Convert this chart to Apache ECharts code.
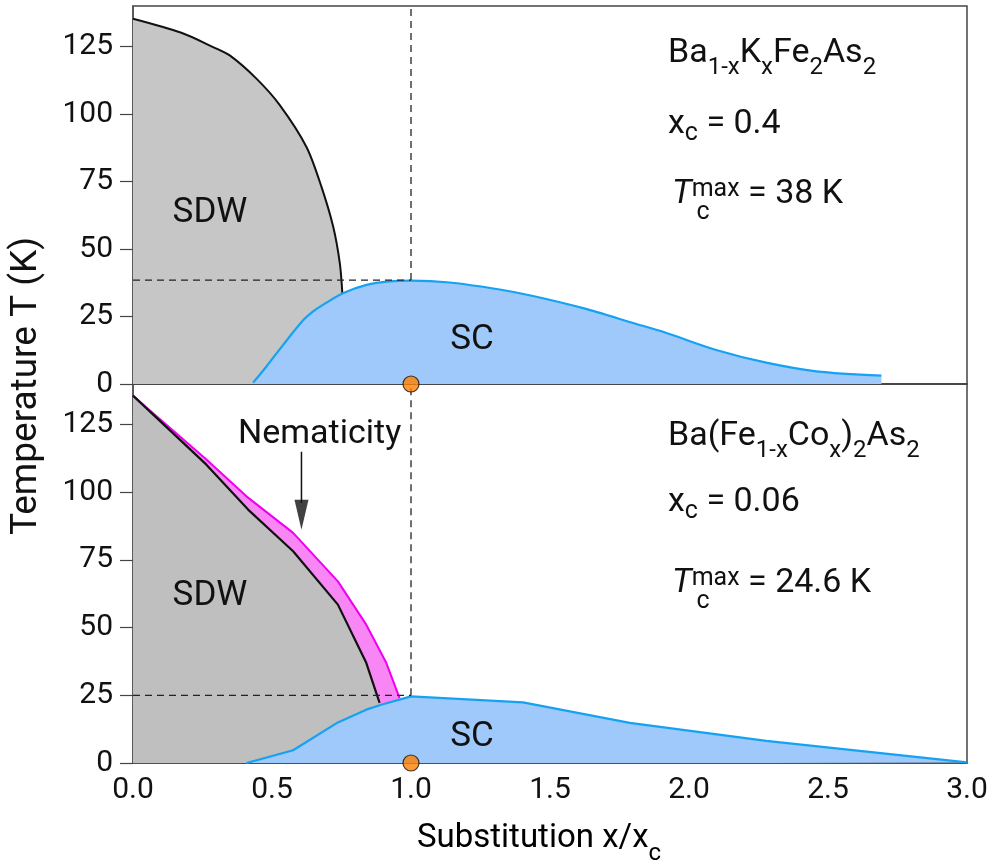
<!DOCTYPE html>
<html>
<head>
<meta charset="utf-8">
<script src="https://cdn.jsdelivr.net/npm/echarts@6/dist/echarts.min.js"></script>
<style>
html,body{margin:0;padding:0;background:#fff;}
#chart{width:995px;height:864px;}
</style>
</head>
<body>
<div id="chart"></div>
<script>
// ---- data (x = substitution x/xc, T = temperature K) ----
const xTicks = [0, 0.5, 1, 1.5, 2, 2.5, 3];
const yTicks = [0, 25, 50, 75, 100, 125];

// Top panel: Ba1-xKxFe2As2
const sdwTopX = [0, 0.174, 0.288, 0.348, 0.444, 0.528, 0.624, 0.678, 0.72, 0.744, 0.753];
const sdwTopT = [135.3, 130.1, 124.8, 121.7, 113.1, 103.3, 87.8, 73.0, 58.3, 44.7, 33.6];
const scTopX = [0.432, 0.48, 0.54, 0.612, 0.647, 0.683, 0.755, 0.84, 0.923, 1.0, 1.139, 1.319, 1.439, 1.619, 1.799, 1.919, 2.098, 2.278, 2.458, 2.692];
const scTopT = [0.5, 6.5, 14.5, 23.6, 26.8, 29.3, 33.6, 36.7, 38.0, 38.3, 37.6, 35.0, 32.6, 28.1, 22.6, 18.9, 12.6, 7.9, 4.7, 3.1];
const tcTop = 38.5;

// Bottom panel: Ba(Fe1-xCox)2As2
const sdwBotX = [0, 0.264, 0.414, 0.576, 0.737, 0.839, 0.887];
const sdwBotT = [135.7, 110.2, 93.6, 78.2, 58.5, 37.0, 22.2];
const nemX = [0, 0.264, 0.408, 0.576, 0.737, 0.839, 0.911, 0.959];
const nemT = [135.7, 112.1, 98.5, 85.0, 67.1, 51.1, 37.0, 24.0];
const scBotX = [0.408, 0.576, 0.737, 0.839, 0.893, 1.0, 1.403, 1.787, 2.278, 3.0];
const scBotT = [0, 4.7, 15.0, 19.7, 21.5, 24.6, 22.4, 14.8, 8.2, 0.2];
const tcBot = 25;

// reference point x/xc = 1
const refX = 1.0;
const tMax = 140;
// Nematicity arrow (x, T from top of shaft to head base, head centre)
const arrowX = 0.606;
const arrowShaftT = [115, 96];
const arrowHeadT = 91.7;

const zip = (xs, ys) => xs.map((x, i) => [x, ys[i]]);

const FONT = "Roboto, 'Liberation Sans', sans-serif";
const BLUE_LINE = '#16a2f2';
const BLUE_FILL = '#9fc8fb';

const chart = echarts.init(document.getElementById('chart'), null, {renderer: 'canvas'});

function xAxisCfg(gridIndex, showLabels) {
  return {
    type: 'value', gridIndex: gridIndex, min: 0, max: 3, interval: 0.5,
    axisLine: {show: true, lineStyle: {color: '#444', width: 1.5}},
    axisTick: {show: false},
    splitLine: {show: false},
    axisLabel: {
      show: showLabels, margin: 12, fontSize: 30, color: '#111', fontFamily: FONT,
      customValues: xTicks,
      formatter: v => v.toFixed(1)
    }
  };
}
function yAxisCfg(gridIndex) {
  return {
    type: 'value', gridIndex: gridIndex, min: 0, max: tMax, interval: 25,
    axisLine: {show: true, lineStyle: {color: '#555', width: 1.5}},
    axisTick: {show: true, inside: false, length: 13, customValues: yTicks, lineStyle: {color: '#444', width: 1.2}},
    splitLine: {show: false},
    axisLabel: {margin: 20, fontSize: 30, color: '#111', fontFamily: FONT, customValues: yTicks}
  };
}

const dashStyle = {color: '#222', width: 1.3, type: [7, 5]};

function richBlock(x, y, text) {
  return {
    type: 'text', x: x, y: y, z: 100,
    style: {
      text: text, align: 'left', verticalAlign: 'top', fill: '#111',
      rich: {
        n: {fontSize: 34, lineHeight: 34, verticalAlign: 'top', fontFamily: FONT, color: '#111'},
        it: {fontSize: 34, lineHeight: 34, verticalAlign: 'top', fontFamily: FONT, fontStyle: 'italic', color: '#111'},
        s: {fontSize: 24, lineHeight: 24, verticalAlign: 'top', padding: [20, 0, 0, 0], fontFamily: FONT, color: '#111'},
        sc: {fontSize: 25, lineHeight: 25, verticalAlign: 'top', padding: [14, 0, 0, 0], fontFamily: FONT, color: '#111'},
        sup: {fontSize: 25, lineHeight: 16, verticalAlign: 'top', fontFamily: FONT, color: '#111'}
      }
    }
  };
}
function plainText(x, y, text, size, align) {
  return {
    type: 'text', x: x, y: y, z: 100,
    style: {text: text, fontSize: size, fontFamily: FONT, fill: '#111', align: align || 'center', verticalAlign: 'middle'}
  };
}

const option = {
  animation: false,
  backgroundColor: '#fff',
  grid: [
    {left: 133, top: 6, width: 834, height: 378, show: true, borderColor: '#444', borderWidth: 1.5, backgroundColor: 'transparent'},
    {left: 133, top: 384, width: 834, height: 379, show: true, borderColor: '#444', borderWidth: 1.5, backgroundColor: 'transparent'}
  ],
  xAxis: [xAxisCfg(0, false), xAxisCfg(1, true)],
  yAxis: [yAxisCfg(0), yAxisCfg(1)],
  series: [
    // ---- top panel ----
    {type: 'line', xAxisIndex: 0, yAxisIndex: 0, data: zip(sdwTopX, sdwTopT), smooth: 0.3, symbol: 'none',
      lineStyle: {color: '#111', width: 2}, areaStyle: {color: '#c6c6c6', opacity: 1}, z: 2},
    {type: 'line', xAxisIndex: 0, yAxisIndex: 0, data: zip(scTopX, scTopT), smooth: 0.3, symbol: 'none',
      lineStyle: {color: BLUE_LINE, width: 2.2}, areaStyle: {color: BLUE_FILL, opacity: 1}, z: 3},
    {type: 'line', xAxisIndex: 0, yAxisIndex: 0, data: [[refX, tcTop], [refX, tMax]], symbol: 'none', lineStyle: dashStyle, z: 4},
    {type: 'line', xAxisIndex: 0, yAxisIndex: 0, data: [[0, tcTop], [refX, tcTop]], symbol: 'none', lineStyle: dashStyle, z: 4},
    // ---- bottom panel ----
    {type: 'line', xAxisIndex: 1, yAxisIndex: 1, data: zip(nemX, nemT), symbol: 'none',
      lineStyle: {color: '#f000f0', width: 2}, areaStyle: {color: '#f986f5', opacity: 1}, z: 2},
    {type: 'line', xAxisIndex: 1, yAxisIndex: 1, data: zip(sdwBotX, sdwBotT), symbol: 'none',
      lineStyle: {color: '#111', width: 2.2}, areaStyle: {color: '#bfbfbf', opacity: 1}, z: 2},
    {type: 'line', xAxisIndex: 1, yAxisIndex: 1, data: zip(scBotX, scBotT), symbol: 'none',
      lineStyle: {color: BLUE_LINE, width: 2.2}, areaStyle: {color: BLUE_FILL, opacity: 1}, z: 3},
    {type: 'line', xAxisIndex: 1, yAxisIndex: 1, data: [[refX, tcBot], [refX, tMax]], symbol: 'none', lineStyle: dashStyle, z: 4},
    {type: 'line', xAxisIndex: 1, yAxisIndex: 1, data: [[0, tcBot], [refX, tcBot]], symbol: 'none', lineStyle: dashStyle, z: 4},
    // arrow
    {type: 'line', xAxisIndex: 1, yAxisIndex: 1, data: arrowShaftT.map(t => [arrowX, t]), symbol: 'none',
      lineStyle: {color: '#111', width: 1.5}, z: 5},
    {type: 'scatter', xAxisIndex: 1, yAxisIndex: 1, data: [[arrowX, arrowHeadT]], symbol: 'triangle', symbolSize: [14, 30],
      symbolRotate: 180, itemStyle: {color: '#111'}, z: 5, clip: false},
    // orange reference dots
    {type: 'scatter', xAxisIndex: 1, yAxisIndex: 1, data: [[refX, 0]], symbolSize: 16, clip: false,
      itemStyle: {color: '#ff7f00', borderColor: '#111', borderWidth: 1.2}, z: 10},
    {type: 'scatter', xAxisIndex: 0, yAxisIndex: 0, data: [[refX, 0]], symbolSize: 16, clip: false,
      itemStyle: {color: '#ff7f00', borderColor: '#111', borderWidth: 1.2}, z: 10}
  ],
  graphic: [
    // phase labels
    plainText(210, 213, 'SDW', 35),
    plainText(472, 340, 'SC', 35),
    plainText(210, 596, 'SDW', 35),
    plainText(472, 737, 'SC', 35),
    {type: 'text', x: 238, y: 417, z: 100,
      style: {text: 'Nematicity', fontSize: 34, lineHeight: 34, fontFamily: FONT, fill: '#111', align: 'left', verticalAlign: 'top'}},
    // top annotations
    richBlock(668, 36, '{n|Ba}{s|1-x}{n|K}{s|x}{n|Fe}{s|2}{n|As}{s|2}'),
    richBlock(668, 107, '{n|x}{sc|c}{n| = 0.4}'),
    richBlock(672, 177, '{it|T}{sup|max}{n| = 38 K}'),
    plainText(703, 213, 'c', 25, 'center'),
    // bottom annotations
    richBlock(668, 419, '{n|Ba(Fe}{s|1-x}{n|Co}{s|x}{n|)}{s|2}{n|As}{s|2}'),
    richBlock(668, 485, '{n|x}{sc|c}{n| = 0.06}'),
    richBlock(672, 566, '{it|T}{sup|max}{n| = 24.6 K}'),
    plainText(703, 602, 'c', 25, 'center'),
    // axis titles
    {type: 'text', x: 27, y: 386, rotation: Math.PI / 2, z: 100,
      style: {text: 'Temperature T (K)', fontSize: 37, fontFamily: FONT, fill: '#111', align: 'center', verticalAlign: 'middle'}},
    {type: 'text', x: 539, y: 822, z: 100,
      style: {text: '{n|Substitution x/x}{sc|c}', align: 'center', verticalAlign: 'top',
        rich: {
          n: {fontSize: 33, lineHeight: 33, verticalAlign: 'top', fontFamily: FONT, color: '#111'},
          sc: {fontSize: 24, lineHeight: 24, verticalAlign: 'top', padding: [20, 0, 0, 0], fontFamily: FONT, color: '#111'}
        }}}
  ]
};
chart.setOption(option);
</script>
</body>
</html>
